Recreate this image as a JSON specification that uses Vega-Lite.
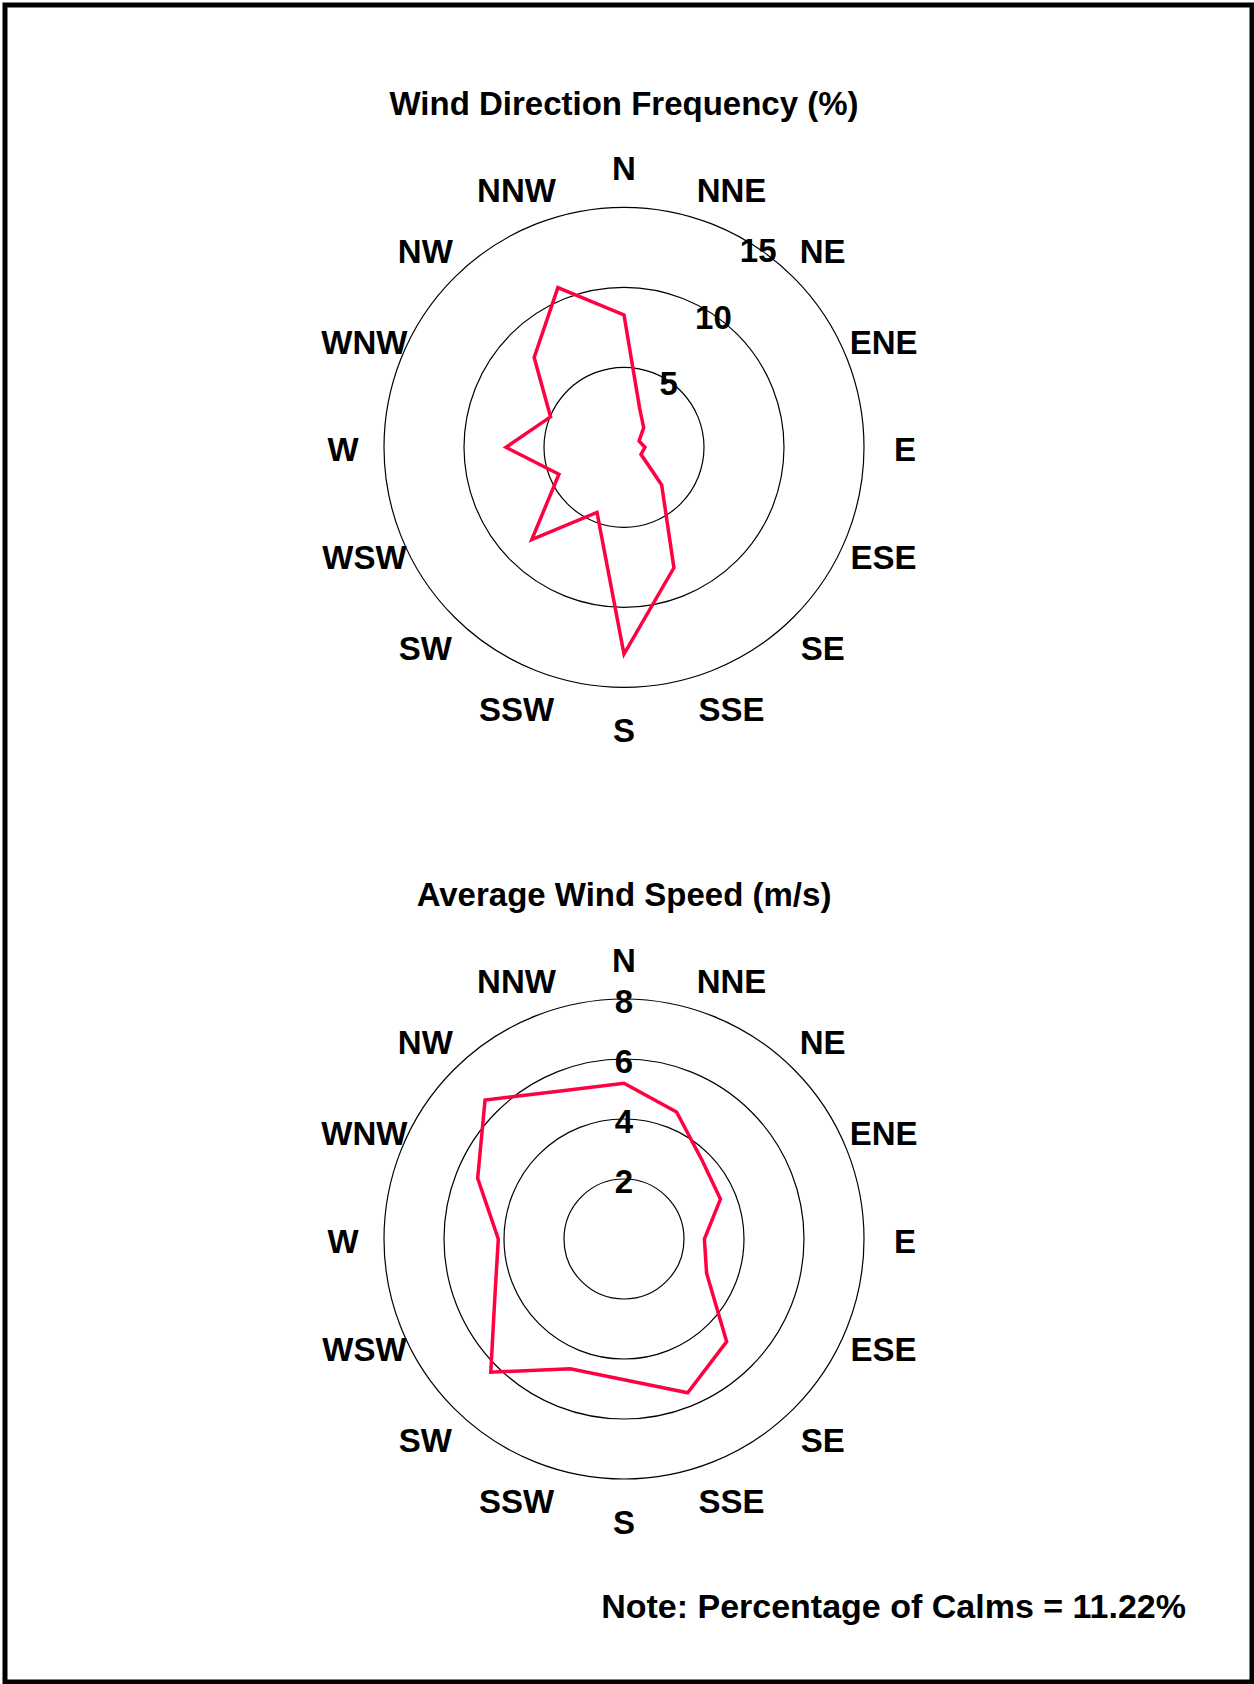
{
  "$schema": "https://vega.github.io/schema/vega-lite/v6.json",
  "width": 1254,
  "height": 1684,
  "autosize": {"type": "fit", "contains": "padding"},
  "padding": {"left": 5, "top": 5, "right": 2, "bottom": 2},
  "background": "white",
  "config": {
    "view": {"stroke": "black", "strokeWidth": 5},
    "text": {"font": "Liberation Sans", "fontWeight": "bold", "fontSize": 33, "color": "black"}
  },
  "datasets": {
    "wind": [
      {"chart": "freq", "dir": "N", "deg": 0, "value": 8.27},
      {"chart": "freq", "dir": "NNE", "deg": 22.5, "value": 2.58},
      {"chart": "freq", "dir": "NE", "deg": 45, "value": 1.74},
      {"chart": "freq", "dir": "ENE", "deg": 67.5, "value": 1.02},
      {"chart": "freq", "dir": "E", "deg": 90, "value": 1.31},
      {"chart": "freq", "dir": "ESE", "deg": 112.5, "value": 1.15},
      {"chart": "freq", "dir": "SE", "deg": 135, "value": 3.33},
      {"chart": "freq", "dir": "SSE", "deg": 157.5, "value": 8.15},
      {"chart": "freq", "dir": "S", "deg": 180, "value": 12.92},
      {"chart": "freq", "dir": "SSW", "deg": 202.5, "value": 4.41},
      {"chart": "freq", "dir": "SW", "deg": 225, "value": 8.15},
      {"chart": "freq", "dir": "WSW", "deg": 247.5, "value": 4.4},
      {"chart": "freq", "dir": "W", "deg": 270, "value": 7.38},
      {"chart": "freq", "dir": "WNW", "deg": 292.5, "value": 4.97},
      {"chart": "freq", "dir": "NW", "deg": 315, "value": 7.94},
      {"chart": "freq", "dir": "NNW", "deg": 337.5, "value": 10.8},
      {"chart": "speed", "dir": "N", "deg": 0, "value": 5.19},
      {"chart": "speed", "dir": "NNE", "deg": 22.5, "value": 4.58},
      {"chart": "speed", "dir": "NE", "deg": 45, "value": 3.69},
      {"chart": "speed", "dir": "ENE", "deg": 67.5, "value": 3.48},
      {"chart": "speed", "dir": "E", "deg": 90, "value": 2.68},
      {"chart": "speed", "dir": "ESE", "deg": 112.5, "value": 2.98},
      {"chart": "speed", "dir": "SE", "deg": 135, "value": 4.84},
      {"chart": "speed", "dir": "SSE", "deg": 157.5, "value": 5.55},
      {"chart": "speed", "dir": "S", "deg": 180, "value": 4.69},
      {"chart": "speed", "dir": "SSW", "deg": 202.5, "value": 4.68},
      {"chart": "speed", "dir": "SW", "deg": 225, "value": 6.28},
      {"chart": "speed", "dir": "WSW", "deg": 247.5, "value": 4.65},
      {"chart": "speed", "dir": "W", "deg": 270, "value": 4.19},
      {"chart": "speed", "dir": "WNW", "deg": 292.5, "value": 5.28},
      {"chart": "speed", "dir": "NW", "deg": 315, "value": 6.55},
      {"chart": "speed", "dir": "NNW", "deg": 337.5, "value": 5.35}
    ],
    "rings": [
      {"chart": "freq", "ring": 5},
      {"chart": "freq", "ring": 10},
      {"chart": "freq", "ring": 15},
      {"chart": "speed", "ring": 2},
      {"chart": "speed", "ring": 4},
      {"chart": "speed", "ring": 6},
      {"chart": "speed", "ring": 8}
    ],
    "titles": [
      {"chart": "freq", "title": "Wind Direction Frequency (%)"},
      {"chart": "speed", "title": "Average Wind Speed (m/s)"}
    ],
    "note": [
      {"note": "Note: Percentage of Calms = 11.22%"}
    ]
  },
  "layer": [
    {
      "data": {"name": "rings"},
      "transform": [
        {"calculate": "0", "as": "cx"},
        {"calculate": "datum.chart == 'freq' ? 0 : -49.481", "as": "cy"},
        {"calculate": "datum.chart == 'freq' ? datum.ring : datum.ring * 1.875", "as": "rr"}
      ],
      "mark": {"type": "arc", "filled": false, "stroke": "black", "strokeWidth": 1.2, "theta": 0, "theta2": 6.2832},
      "encoding": {
        "x": {"field": "cx", "type": "quantitative", "scale": {"domain": [-38.6875, 39.25], "nice": false, "zero": false}, "axis": null},
        "y": {"field": "cy", "type": "quantitative", "scale": {"domain": [-77.169, 27.644], "nice": false, "zero": false}, "axis": null},
        "radius": {"field": "rr", "type": "quantitative", "stack": null, "scale": {"type": "linear", "domain": [0, 15], "range": [0, 240], "zero": true}, "legend": null}
      }
    },
    {
      "data": {"name": "wind"},
      "transform": [
        {"calculate": "datum.chart == 'freq' ? 0 : -49.481", "as": "cy"},
        {"calculate": "datum.chart == 'freq' ? datum.value : datum.value * 1.875", "as": "r"},
        {"calculate": "datum.r * sin(datum.deg * PI / 180)", "as": "px"},
        {"calculate": "datum.cy + datum.r * cos(datum.deg * PI / 180)", "as": "py"}
      ],
      "mark": {"type": "line", "interpolate": "linear-closed", "color": "#ff0040", "strokeWidth": 3.5, "strokeJoin": "miter"},
      "encoding": {
        "x": {"field": "px", "type": "quantitative"},
        "y": {"field": "py", "type": "quantitative"},
        "detail": {"field": "chart"},
        "order": {"field": "deg", "type": "quantitative"}
      }
    },
    {
      "data": {"name": "wind"},
      "transform": [
        {"calculate": "datum.chart == 'freq' ? 0 : -49.481", "as": "cy"},
        {"calculate": "17.5625 * sin(datum.deg * PI / 180)", "as": "lx"},
        {"calculate": "datum.cy + 17.5625 * cos(datum.deg * PI / 180)", "as": "ly"}
      ],
      "mark": {"type": "text", "align": "center", "baseline": "middle", "dy": 4},
      "encoding": {
        "x": {"field": "lx", "type": "quantitative"},
        "y": {"field": "ly", "type": "quantitative"},
        "text": {"field": "dir"}
      }
    },
    {
      "data": {"name": "rings"},
      "transform": [
        {"calculate": "datum.chart == 'freq' ? 0 : -49.481", "as": "cy"},
        {"calculate": "datum.chart == 'freq' ? datum.ring : datum.ring * 1.875", "as": "rr"},
        {"calculate": "datum.chart == 'freq' ? 34 : 0", "as": "ang"},
        {"calculate": "datum.rr * sin(datum.ang * PI / 180)", "as": "lx"},
        {"calculate": "datum.cy + datum.rr * cos(datum.ang * PI / 180)", "as": "ly"}
      ],
      "mark": {"type": "text", "align": "center", "baseline": "middle", "dy": 4},
      "encoding": {
        "x": {"field": "lx", "type": "quantitative"},
        "y": {"field": "ly", "type": "quantitative"},
        "text": {"field": "ring"}
      }
    },
    {
      "data": {"name": "titles"},
      "transform": [
        {"calculate": "0", "as": "tx"},
        {"calculate": "(datum.chart == 'freq' ? 0 : -49.481) + 21.47", "as": "ty"}
      ],
      "mark": {"type": "text", "align": "center", "baseline": "middle", "fontSize": 33, "dy": 1},
      "encoding": {
        "x": {"field": "tx", "type": "quantitative"},
        "y": {"field": "ty", "type": "quantitative"},
        "text": {"field": "title"}
      }
    },
    {
      "data": {"name": "note"},
      "mark": {"type": "text", "align": "right", "baseline": "middle", "fontSize": 34, "dy": 1},
      "encoding": {
        "x": {"datum": 35.125, "type": "quantitative"},
        "y": {"datum": -72.481, "type": "quantitative"},
        "text": {"field": "note"}
      }
    }
  ]
}
